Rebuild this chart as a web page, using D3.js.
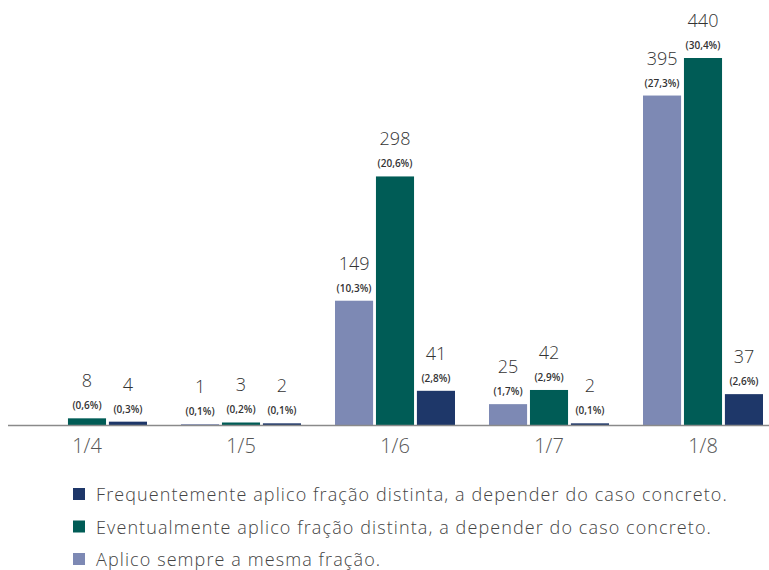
<!DOCTYPE html>
<html>
<head>
<meta charset="utf-8">
<script src="https://cdn.jsdelivr.net/npm/d3@7"></script>
<style>
  body { margin: 0; background: #fff; }
  text { font-family: "Open Sans", sans-serif; }
</style>
</head>
<body>
<div id="chart"></div>
<script>
var categories = ["1/4", "1/5", "1/6", "1/7", "1/8"];
var seriesNames = [
  "Aplico sempre a mesma fração.",
  "Eventualmente aplico fração distinta, a depender do caso concreto.",
  "Frequentemente aplico fração distinta, a depender do caso concreto."
];
var seriesColors = ["#7d89b4", "#005c56", "#1e3769"];
var aplicoValues = [0, 1, 149, 25, 395];
var eventualValues = [8, 3, 298, 42, 440];
var frequenteValues = [4, 2, 41, 2, 37];
var aplicoPct = ["", "(0,1%)", "(10,3%)", "(1,7%)", "(27,3%)"];
var eventualPct = ["(0,6%)", "(0,2%)", "(20,6%)", "(2,9%)", "(30,4%)"];
var frequentePct = ["(0,3%)", "(0,1%)", "(2,8%)", "(0,1%)", "(2,6%)"];

var allValues = [aplicoValues, eventualValues, frequenteValues];
var allPct = [aplicoPct, eventualPct, frequentePct];

var width = 769, height = 570;
var baseline = 425;

var svg = d3.select("#chart").append("svg")
  .attr("width", width)
  .attr("height", height);

var x0 = d3.scaleBand().domain(categories).range([10, 780]).padding(0);
var x1 = d3.scaleBand().domain([0, 1, 2]).range([0, 120]).paddingInner(0.07);
var y = d3.scaleLinear().domain([0, 440]).range([baseline, 58]);

var groups = svg.selectAll(".grp")
  .data(categories)
  .enter().append("g")
  .attr("class", "grp")
  .attr("transform", function(d) {
    return "translate(" + (x0(d) + x0.bandwidth() / 2 - 60) + ",0)";
  });

groups.each(function(cat, ci) {
  var g = d3.select(this);
  [0, 1, 2].forEach(function(si) {
    var v = allValues[si][ci];
    if (v === 0) return;
    g.append("rect")
      .attr("x", x1(si))
      .attr("y", y(v))
      .attr("width", x1.bandwidth())
      .attr("height", baseline - y(v))
      .attr("fill", seriesColors[si]);
    var cx = x1(si) + x1.bandwidth() / 2;
    g.append("text")
      .attr("x", cx)
      .attr("y", y(v) - 31)
      .attr("text-anchor", "middle")
      .attr("font-size", 18)
      .attr("font-weight", 300)
      .attr("fill", "#333")
      .text(v);
    g.append("text")
      .attr("x", cx)
      .attr("y", y(v) - 9)
      .attr("text-anchor", "middle")
      .attr("font-size", 10)
      .attr("font-weight", 600)
      .attr("fill", "#333")
      .text(allPct[si][ci]);
  });
});

// axis line + labels
svg.append("line")
  .attr("x1", 8).attr("x2", 769)
  .attr("y1", baseline + 0.5).attr("y2", baseline + 0.5)
  .attr("stroke", "#8a8a8a").attr("stroke-width", 1.5);

var xAxis = d3.axisBottom(x0).tickSize(0).tickPadding(14);
var axisG = svg.append("g")
  .attr("transform", "translate(0," + baseline + ")")
  .call(xAxis);
axisG.select(".domain").remove();
axisG.selectAll("text")
  .attr("font-size", 20)
  .attr("font-weight", 300)
  .attr("fill", "#555")
  .style("font-family", "'Open Sans', sans-serif");

// legend (reverse order)
var legendOrder = [2, 1, 0];
var legend = svg.selectAll(".leg")
  .data(legendOrder)
  .enter().append("g")
  .attr("class", "leg")
  .attr("transform", function(d, i) { return "translate(73," + (495 + i * 32.5) + ")"; });

legend.append("rect")
  .attr("x", 0).attr("y", -7)
  .attr("width", 12).attr("height", 12)
  .attr("fill", function(d) { return seriesColors[d]; });

legend.append("text")
  .attr("x", 23)
  .attr("y", 0)
  .attr("dy", "0.35em")
  .attr("font-size", 18)
  .attr("font-weight", 300)
  .attr("letter-spacing", 1.1)
  .attr("fill", "#444")
  .text(function(d) { return seriesNames[d]; });
</script>
</body>
</html>
